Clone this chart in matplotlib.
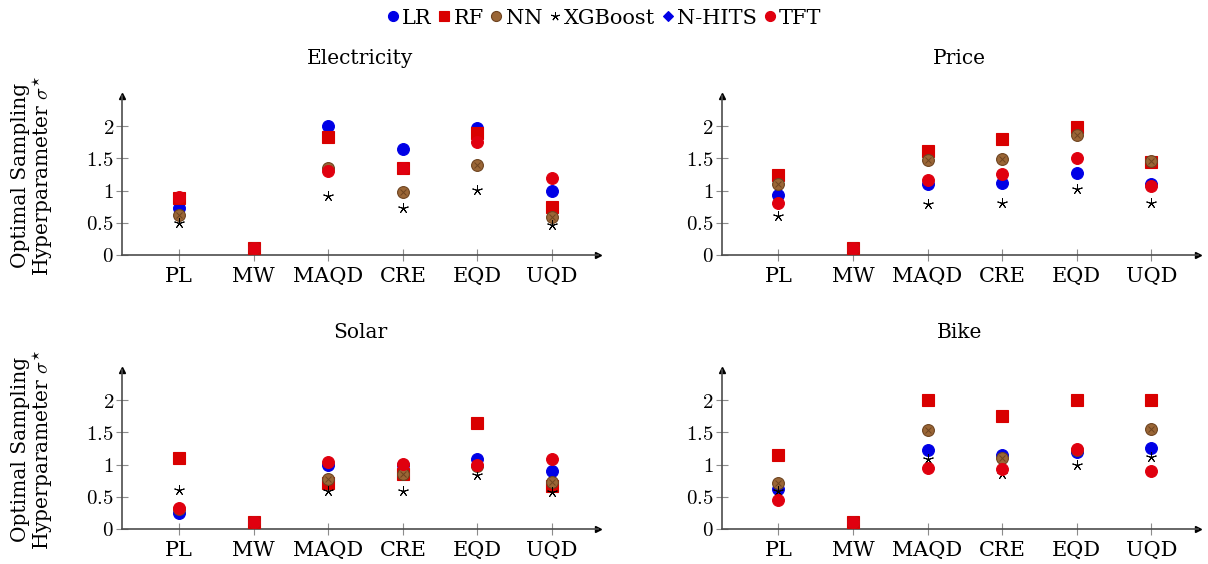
import numpy as np
import matplotlib
matplotlib.use("Agg")
import matplotlib.pyplot as plt
from matplotlib.lines import Line2D

plt.rcParams["font.family"] = ["DejaVu Serif"]
plt.rcParams["mathtext.fontset"] = "cm"

# ---- data -------------------------------------------------------------
metrics = ["PL", "MW", "MAQD", "CRE", "EQD", "UQD"]
datasets = ["Electricity", "Price", "Solar", "Bike"]
models = ["LR", "RF", "NN", "XGBoost", "N-HITS", "TFT"]

electricity_lr = [0.73, 0.10, 2.00, 1.64, 1.98, 0.99]
electricity_rf = [0.88, 0.10, 1.84, 1.35, 1.90, 0.74]
electricity_nn = [0.62, 0.10, 1.35, 0.97, 1.40, 0.59]
electricity_xgb = [0.50, 0.10, 0.91, 0.72, 1.01, 0.47]
electricity_nhits = [0.90, 0.10, 1.31, 1.35, 1.75, 1.19]
electricity_tft = [0.90, 0.10, 1.31, 1.35, 1.75, 1.19]

price_lr = [0.93, 0.10, 1.10, 1.11, 1.27, 1.10]
price_rf = [1.24, 0.10, 1.61, 1.80, 1.99, 1.44]
price_nn = [1.10, 0.10, 1.48, 1.49, 1.87, 1.46]
price_xgb = [0.61, 0.10, 0.79, 0.80, 1.02, 0.80]
price_nhits = [0.81, 0.10, 1.16, 1.26, 1.50, 1.07]
price_tft = [0.81, 0.10, 1.16, 1.26, 1.50, 1.07]

solar_lr = [0.24, 0.10, 1.00, 1.00, 1.08, 0.90]
solar_rf = [1.10, 0.10, 0.71, 0.86, 1.65, 0.67]
solar_nn = [0.30, 0.10, 0.77, 0.86, 0.97, 0.72]
solar_xgb = [0.61, 0.10, 0.59, 0.59, 0.84, 0.57]
solar_nhits = [0.33, 0.10, 1.04, 1.01, 1.00, 1.09]
solar_tft = [0.33, 0.10, 1.04, 1.01, 1.00, 1.09]

bike_lr = [0.62, 0.10, 1.23, 1.15, 1.19, 1.25]
bike_rf = [1.15, 0.10, 2.00, 1.76, 2.00, 2.00]
bike_nn = [0.71, 0.10, 1.54, 1.10, 1.22, 1.55]
bike_xgb = [0.59, 0.10, 1.09, 0.86, 0.99, 1.12]
bike_nhits = [0.44, 0.10, 0.94, 0.93, 1.24, 0.90]
bike_tft = [0.44, 0.10, 0.94, 0.93, 1.24, 0.90]

series = {
    "Electricity": [electricity_lr, electricity_rf, electricity_nn,
                    electricity_xgb, electricity_nhits, electricity_tft],
    "Price": [price_lr, price_rf, price_nn, price_xgb, price_nhits, price_tft],
    "Solar": [solar_lr, solar_rf, solar_nn, solar_xgb, solar_nhits, solar_tft],
    "Bike": [bike_lr, bike_rf, bike_nn, bike_xgb, bike_nhits, bike_tft],
}

yticks = [0, 0.5, 1, 1.5, 2]
ytick_labels = ["$0$", "$0.5$", "$1$", "$1.5$", "$2$"]

# ---- styles -----------------------------------------------------------
BLUE = "#0000e6"
RED = "#d90000"
RED_TFT = "#e0000f"
BROWN = "#9a6636"
BROWN_EDGE = "#6e4420"

styles = {
    "LR": dict(marker="o", color=BLUE, ms=8.5, mec=BLUE),
    "RF": dict(marker="s", color=RED, ms=8.2, mec=RED),
    "NN": dict(marker="o", color=BROWN, ms=8.5, mec=BROWN_EDGE, mew=0.8),
    "XGBoost": dict(marker=(5, 2, 0), color="black", ms=7.5, mew=0.7),
    "N-HITS": dict(marker="D", color=BLUE, ms=5.5, mec=BLUE),
    "TFT": dict(marker="o", color=RED_TFT, ms=8.5, mec=RED_TFT),
}

fig = plt.figure(figsize=(12.08, 5.64), dpi=100)

W, H = 1208, 564
positions = {
    "Electricity": (122.3, 254.7),
    "Price": (721.7, 254.7),
    "Solar": (122.3, 528.7),
    "Bike": (721.7, 528.7),
}
ax_w = 476.0
ax_h = 158.5

x = np.arange(len(metrics))
AXIS_COLOR = "#4d4d4d"
TICK_COLOR = "#8c8c8c"

for name in datasets:
    left_px, zero_px = positions[name]
    ax = fig.add_axes([left_px / W, (H - zero_px) / H, ax_w / W, ax_h / H])
    vals = series[name]
    for model, v in zip(models, vals):
        st = styles[model]
        ax.plot(x, v, linestyle="none", marker=st["marker"], color=st["color"],
                ms=st["ms"], mec=st.get("mec", st["color"]),
                mew=st.get("mew", 0.8), zorder=3)
        if model == "NN":
            ax.plot(x, v, linestyle="none", marker="x", color=BROWN_EDGE,
                    ms=5.0, mew=0.7, zorder=3)

    ax.set_xlim(-0.76, 5.62)
    ax.set_ylim(0, 2.47)
    for s in ["top", "right"]:
        ax.spines[s].set_visible(False)
    for s in ["left", "bottom"]:
        ax.spines[s].set_color(AXIS_COLOR)
        ax.spines[s].set_linewidth(1.2)
    # arrow heads at the ends of both axes
    ax.plot(1, 0, marker=">", color="black", ms=4.5,
            transform=ax.transAxes, clip_on=False)
    ax.plot(0, 1, marker="^", color="black", ms=4.5,
            transform=ax.transAxes, clip_on=False)

    ax.set_xticks(x)
    ax.set_xticklabels(metrics, fontsize=15)
    ax.set_yticks(yticks)
    ax.set_yticklabels(ytick_labels, fontsize=15)
    ax.tick_params(axis="both", direction="inout", length=8, width=0.8,
                   color=TICK_COLOR, pad=2)
    ax.tick_params(axis="x", pad=5)
    ax.set_facecolor("none")
    ax.set_title(name, fontsize=14.5, pad=23)

    if name in ("Electricity", "Solar"):
        yc = (zero_px - ax_h / 2)
        fig.text(33 / W, 1 - yc / H,
                 "Optimal Sampling\nHyperparameter $\\sigma^{\\star}$",
                 rotation=90, ha="center", va="center", fontsize=14.5,
                 multialignment="center", linespacing=1.05)

# legend across the top
handles = []
for model in models:
    st = styles[model]
    h = Line2D([], [], linestyle="none", marker=st["marker"], color=st["color"],
               ms=st["ms"] * 0.85, mec=st.get("mec", st["color"]),
               mew=st.get("mew", 0.8), label=model)
    handles.append(h)
fig.legend(handles=handles, loc="center", bbox_to_anchor=(0.5, 1 - 18 / H),
           ncol=6, frameon=False, fontsize=15, handlelength=0.6,
           handletextpad=0.15, columnspacing=0.3, borderaxespad=0)

fig.savefig("out.png", dpi=100)
